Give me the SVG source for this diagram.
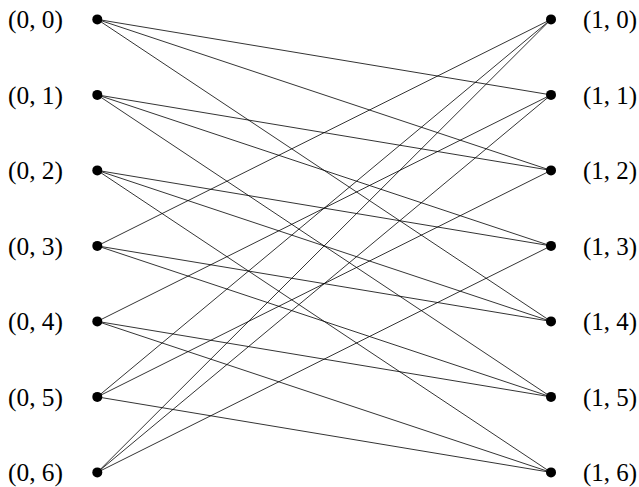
<svg xmlns="http://www.w3.org/2000/svg" width="639" height="487" viewBox="0 0 639 487">
<style>
.e{stroke:#000;stroke-width:0.8;fill:none}
.d{fill:#000}
.t{font-family:"Liberation Serif","Times New Roman",serif;font-size:25px;fill:#000}
</style>
<rect width="639" height="487" fill="#fff"/>
<g id="connectors">
<line class="e" x1="97.3" y1="19.4" x2="551" y2="94.9"/>
<line class="e" x1="97.3" y1="19.4" x2="551" y2="170.4"/>
<line class="e" x1="97.3" y1="19.4" x2="551" y2="321.4"/>
<line class="e" x1="97.3" y1="94.9" x2="551" y2="170.4"/>
<line class="e" x1="97.3" y1="94.9" x2="551" y2="245.9"/>
<line class="e" x1="97.3" y1="94.9" x2="551" y2="396.9"/>
<line class="e" x1="97.3" y1="170.4" x2="551" y2="245.9"/>
<line class="e" x1="97.3" y1="170.4" x2="551" y2="321.4"/>
<line class="e" x1="97.3" y1="170.4" x2="551" y2="472.4"/>
<line class="e" x1="97.3" y1="245.9" x2="551" y2="321.4"/>
<line class="e" x1="97.3" y1="245.9" x2="551" y2="396.9"/>
<line class="e" x1="97.3" y1="245.9" x2="551" y2="19.4"/>
<line class="e" x1="97.3" y1="321.4" x2="551" y2="396.9"/>
<line class="e" x1="97.3" y1="321.4" x2="551" y2="472.4"/>
<line class="e" x1="97.3" y1="321.4" x2="551" y2="94.9"/>
<line class="e" x1="97.3" y1="396.9" x2="551" y2="472.4"/>
<line class="e" x1="97.3" y1="396.9" x2="551" y2="19.4"/>
<line class="e" x1="97.3" y1="396.9" x2="551" y2="170.4"/>
<line class="e" x1="97.3" y1="472.4" x2="551" y2="19.4"/>
<line class="e" x1="97.3" y1="472.4" x2="551" y2="94.9"/>
<line class="e" x1="97.3" y1="472.4" x2="551" y2="245.9"/>
</g>
<g id="n0_0"><circle class="d" cx="97.3" cy="19.4" r="5"/><text class="t" x="8" y="28" textLength="55" lengthAdjust="spacingAndGlyphs">(0, 0)</text></g>
<g id="n0_1"><circle class="d" cx="97.3" cy="94.9" r="5"/><text class="t" x="8" y="103.5" textLength="55" lengthAdjust="spacingAndGlyphs">(0, 1)</text></g>
<g id="n0_2"><circle class="d" cx="97.3" cy="170.4" r="5"/><text class="t" x="8" y="179" textLength="55" lengthAdjust="spacingAndGlyphs">(0, 2)</text></g>
<g id="n0_3"><circle class="d" cx="97.3" cy="245.9" r="5"/><text class="t" x="8" y="254.5" textLength="55" lengthAdjust="spacingAndGlyphs">(0, 3)</text></g>
<g id="n0_4"><circle class="d" cx="97.3" cy="321.4" r="5"/><text class="t" x="8" y="330" textLength="55" lengthAdjust="spacingAndGlyphs">(0, 4)</text></g>
<g id="n0_5"><circle class="d" cx="97.3" cy="396.9" r="5"/><text class="t" x="8" y="405.5" textLength="55" lengthAdjust="spacingAndGlyphs">(0, 5)</text></g>
<g id="n0_6"><circle class="d" cx="97.3" cy="472.4" r="5"/><text class="t" x="8" y="481" textLength="55" lengthAdjust="spacingAndGlyphs">(0, 6)</text></g>
<g id="n1_0"><circle class="d" cx="551" cy="19.4" r="5"/><text class="t" x="583" y="28" textLength="54" lengthAdjust="spacingAndGlyphs">(1, 0)</text></g>
<g id="n1_1"><circle class="d" cx="551" cy="94.9" r="5"/><text class="t" x="583" y="103.5" textLength="54" lengthAdjust="spacingAndGlyphs">(1, 1)</text></g>
<g id="n1_2"><circle class="d" cx="551" cy="170.4" r="5"/><text class="t" x="583" y="179" textLength="54" lengthAdjust="spacingAndGlyphs">(1, 2)</text></g>
<g id="n1_3"><circle class="d" cx="551" cy="245.9" r="5"/><text class="t" x="583" y="254.5" textLength="54" lengthAdjust="spacingAndGlyphs">(1, 3)</text></g>
<g id="n1_4"><circle class="d" cx="551" cy="321.4" r="5"/><text class="t" x="583" y="330" textLength="54" lengthAdjust="spacingAndGlyphs">(1, 4)</text></g>
<g id="n1_5"><circle class="d" cx="551" cy="396.9" r="5"/><text class="t" x="583" y="405.5" textLength="54" lengthAdjust="spacingAndGlyphs">(1, 5)</text></g>
<g id="n1_6"><circle class="d" cx="551" cy="472.4" r="5"/><text class="t" x="583" y="481" textLength="54" lengthAdjust="spacingAndGlyphs">(1, 6)</text></g>
</svg>
